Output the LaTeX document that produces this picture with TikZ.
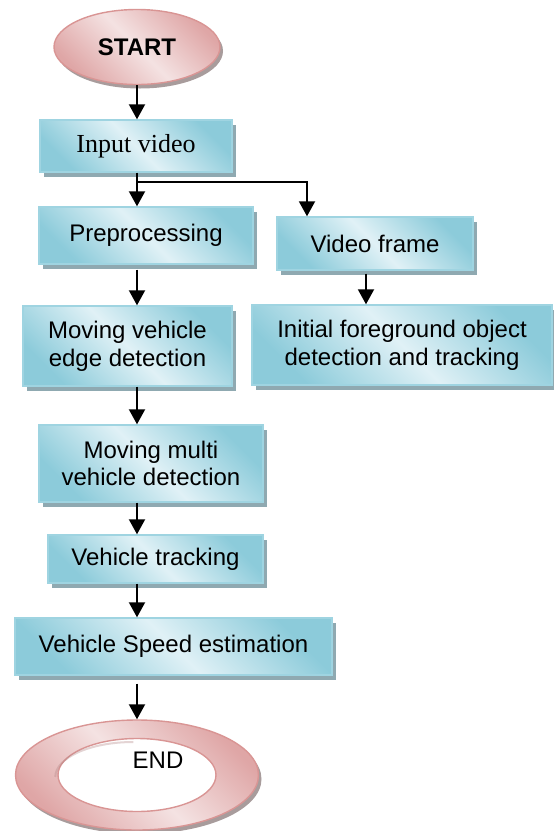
\documentclass[tikz,border=0pt]{standalone}
\usepackage{fontspec}
\setmainfont{Liberation Sans}
\newfontfamily\timesfont{Liberation Serif}
\usetikzlibrary{shapes.geometric,arrows.meta,shadows}
\definecolor{boxdark}{HTML}{8CCBDA}
\definecolor{boxlight}{HTML}{E0F1F6}
\definecolor{boxline}{HTML}{9FD4E1}
\definecolor{boxshadow}{HTML}{8FA9B1}
\definecolor{pinkdark}{HTML}{DFA6A6}
\definecolor{pinklight}{HTML}{F4E2E2}
\definecolor{pinkline}{HTML}{D99594}
\definecolor{pinkshadow}{HTML}{A89C9C}
\tikzset{
  flowbox/.style={rectangle, draw=boxline, line width=1.4pt,
    left color=boxdark, right color=boxdark, middle color=boxlight, shading angle=135,
    general shadow={fill=boxshadow, draw=none, shadow xshift=3.5pt, shadow yshift=-4.5pt},
    align=center, inner sep=0pt,
    font=\fontsize{24}{27.6}\selectfont},
  startshape/.style={ellipse, draw=pinkline, line width=1.4pt,
    left color=pinkdark, right color=pinkdark, middle color=pinklight, shading angle=135,
    general shadow={fill=pinkshadow, draw=none, shadow xshift=3pt, shadow yshift=-4pt},
    inner sep=0pt, font=\bfseries\fontsize{24}{28}\selectfont},
  arr/.style={line width=1.9pt, -{Triangle[length=15pt,width=16pt]}},
  plainline/.style={line width=1.9pt},
}
\begin{document}
\begin{tikzpicture}[x=1pt,y=-1pt]
\useasboundingbox (0,0) rectangle (554,831);
% column coordinates
\coordinate (cx) at (137,0);
\coordinate (vx) at (307,0);
\coordinate (ix) at (366,0);
% nodes
\node[startshape, minimum width=166pt, minimum height=75pt] (start) at (137,47) {START};
\node[flowbox, minimum width=192pt, minimum height=52pt, font=\timesfont\fontsize{26}{30}\selectfont] (input) at (136,146) {Input video};
\node[flowbox, minimum width=214pt, minimum height=57pt] (prep) at (146,235.5) {Preprocessing};
\node[flowbox, minimum width=196pt, minimum height=53pt] (vframe) at (375,243.5) {Video frame};
\node[flowbox, minimum width=209pt, minimum height=80pt] (edge) at (127.5,346) {Moving vehicle\\edge detection};
\node[flowbox, minimum width=300pt, minimum height=80pt] (init) at (402,345) {Initial foreground object\\detection and tracking};
\node[flowbox, minimum width=224pt, minimum height=77pt] (multi) at (151,463.5) {Moving multi\\vehicle detection};
\node[flowbox, minimum width=215pt, minimum height=48pt] (track) at (155.5,559) {Vehicle tracking};
\node[flowbox, minimum width=317pt, minimum height=57pt] (speed) at (173.5,646.5) {Vehicle Speed estimation};
% END ring
\node[ellipse, draw=pinkline, line width=1.4pt, minimum width=243pt, minimum height=110pt,
  left color=pinkdark, right color=pinkdark, middle color=pinklight, shading angle=135,
  general shadow={fill=pinkshadow, draw=none, shadow xshift=3pt, shadow yshift=-4pt}] (end) at (137,775) {};
\node[ellipse, draw=pinkline, line width=1.4pt, fill=white, minimum width=158pt, minimum height=73pt] (hole) at (137,775) {};
\draw[pinkdark!80!black, line width=2pt, opacity=0.35] ([xshift=-2pt,yshift=-2pt]hole.west) arc[start angle=180, end angle=90, x radius=78pt, y radius=35pt];
\node[font=\fontsize{24}{28}\selectfont] (endtext) at (158,760) {END};
% connectors
\coordinate (br) at (137,182);
\coordinate (brr) at (307,182);
\draw[arr] (start.south -| cx) -- (input.north -| cx);
\draw[plainline] (input.south -| cx) -- (br);
\draw[arr] (br) -- (prep.north -| cx);
\draw[arr] (br) -- (brr) -- (vframe.north -| vx);
\draw[arr] (vframe.south -| ix) ++(0,3) -- (init.north -| ix);
\draw[arr] (prep.south -| cx) ++(0,5) -- (edge.north -| cx);
\draw[arr] (edge.south -| cx) -- (multi.north -| cx);
\draw[arr] (multi.south -| cx) -- (track.north -| cx);
\draw[arr] (track.south -| cx) -- (speed.north -| cx);
\draw[arr] (speed.south -| cx) ++(0,8) -- (end.north -| cx);
\end{tikzpicture}
\end{document}
